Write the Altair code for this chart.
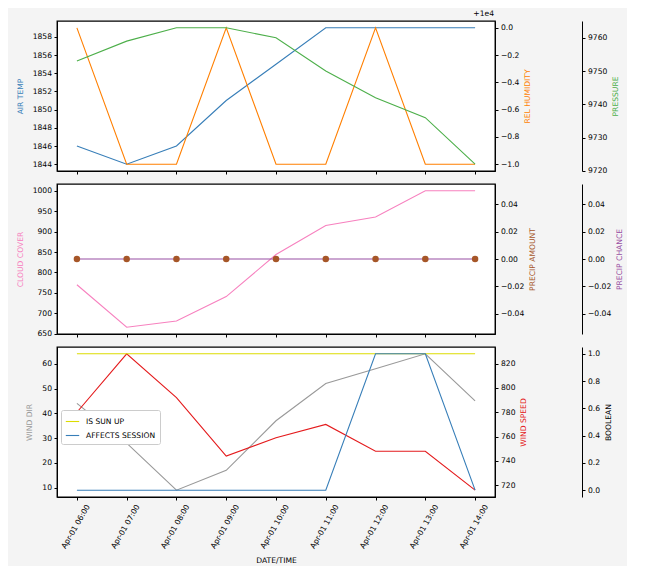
import altair as alt
import pandas as pd

# ---------------- data ----------------
times = ["2024-04-01T06:00:00", "2024-04-01T07:00:00", "2024-04-01T08:00:00",
         "2024-04-01T09:00:00", "2024-04-01T10:00:00", "2024-04-01T11:00:00",
         "2024-04-01T12:00:00", "2024-04-01T13:00:00", "2024-04-01T14:00:00"]
tick_hours = [6, 7, 8, 9, 10, 11, 12, 13, 14]
air_temp = [1846, 1844, 1846, 1851, 1855, 1859, 1859, 1859, 1859]
rel_humidity = [10000, 9999, 9999, 10000, 9999, 9999, 10000, 9999, 9999]
pressure = [9753, 9759, 9763, 9763, 9760, 9750, 9742, 9736, 9722]
cloud_cover = [770, 666, 681, 741, 844, 915, 936, 1000, 1000]
precip_amount = [0, 0, 0, 0, 0, 0, 0, 0, 0]
precip_chance = [0, 0, 0, 0, 0, 0, 0, 0, 0]
wind_dir = [44, 28, 9, 17, 37, 52, 58, 64, 45]
wind_speed = [780, 828, 792, 744, 759, 770, 748, 748, 716]
is_sun_up = [1, 1, 1, 1, 1, 1, 1, 1, 1]
affects_session = [0, 0, 0, 0, 0, 0, 1, 1, 0]

bool_names = ["IS SUN UP", "AFFECTS SESSION"]

# ---------------- styling ----------------
FONT = "DejaVu Sans"
FS = 7.6
C_TEMP = "#377eb8"
C_HUM = "#ff7f00"
C_PRES = "#4daf4a"
C_CLOUD = "#f781bf"
C_PAMT = "#a65628"
C_PCH = "#984ea3"
C_WDIR = "#999999"
C_WSPD = "#e41a1c"
C_SUN = "#dcdc00"
C_AFF = "#377eb8"
LW = 1.1
W, H = 438, 150
GAP = 14


def mdom(vals):
    lo, hi = min(vals), max(vals)
    if hi == lo:
        lo, hi = lo - 0.05, hi + 0.05
    r = hi - lo
    return [lo - 0.05 * r, hi + 0.05 * r]


df = pd.DataFrame({
    "time": times, "air_temp": air_temp, "rel_humidity": rel_humidity,
    "pressure": pressure, "cloud_cover": cloud_cover,
    "precip_amount": precip_amount, "precip_chance": precip_chance,
    "wind_dir": wind_dir, "wind_speed": wind_speed,
})
bool_df = pd.DataFrame({
    "time": times * 2,
    "series": [bool_names[0]] * len(times) + [bool_names[1]] * len(times),
    "value": is_sun_up + affects_session,
})

xdom = [alt.DateTime(year=2024, month=4, date=1, hours=5, minutes=36),
        alt.DateTime(year=2024, month=4, date=1, hours=14, minutes=24)]
xticks = [alt.DateTime(year=2024, month=4, date=1, hours=h) for h in tick_hours]
xscale = alt.Scale(domain=xdom)
x_plain = alt.X("time:T", scale=xscale,
                axis=alt.Axis(labels=False, title=None, values=xticks, grid=False))
x_bottom = alt.X("time:T", scale=xscale,
                 axis=alt.Axis(title="DATE/TIME", format="%b-%d %H:%M", labelAngle=300,
                               labelAlign="right", labelBaseline="middle", labelOffset=11,
                               labelPadding=5, titlePadding=7, values=xticks, grid=False))


def yaxis(orient, title, color, values, offset=0, fmt=None, label_expr=None):
    kw = dict(orient=orient, title=title, titleColor=color, values=values, grid=False,
              offset=offset)
    if orient == "right":
        kw.update(titleAngle=270, titleBaseline="top", titlePadding=5)
    else:
        kw.update(titlePadding=8)
    if fmt:
        kw["format"] = fmt
    if label_expr:
        kw["labelExpr"] = label_expr
    return alt.Axis(**kw)


def yenc(field, vals, axis, domain=None):
    return alt.Y(f"{field}:Q", scale=alt.Scale(domain=domain or mdom(vals), nice=False, zero=False),
                 axis=axis)


# ---------------- panel 1 ----------------
b1 = alt.Chart(df).encode(x=x_plain)
p1_temp = b1.mark_line(color=C_TEMP, strokeWidth=LW).encode(
    y=yenc("air_temp", air_temp, yaxis("left", "AIR TEMP", C_TEMP, list(range(1844, 1859, 2)), fmt="d")))
p1_hum = b1.mark_line(color=C_HUM, strokeWidth=LW).encode(
    y=yenc("rel_humidity", rel_humidity,
           yaxis("right", "REL HUMIDITY", C_HUM, [9999, 9999.2, 9999.4, 9999.6, 9999.8, 10000],
                 label_expr="format(datum.value - 10000, '.1f')")))
p1_pres = b1.mark_line(color=C_PRES, strokeWidth=LW).encode(
    y=yenc("pressure", pressure,
           yaxis("right", "PRESSURE", C_PRES, list(range(9720, 9761, 10)), offset=87, fmt="d")))
p1_off = alt.Chart(pd.DataFrame({"t": ["+1e4"]})).mark_text(
    align="right", baseline="bottom", font=FONT, fontSize=FS, color="black").encode(
    text="t:N", x=alt.value(W - 1), y=alt.value(-3))
panel1 = alt.layer(p1_temp, p1_hum, p1_pres, p1_off).resolve_scale(y="independent").properties(
    width=W, height=H)

# ---------------- panel 2 ----------------
b2 = alt.Chart(df).encode(x=x_plain)
p2_cloud = b2.mark_line(color=C_CLOUD, strokeWidth=LW).encode(
    y=yenc("cloud_cover", cloud_cover,
           yaxis("left", "CLOUD COVER", C_CLOUD, list(range(650, 1001, 50)), fmt="d")))
p2_pch = b2.mark_line(color=C_PCH, strokeWidth=LW).encode(
    y=yenc("precip_chance", precip_chance,
           yaxis("right", "PRECIP CHANCE", C_PCH, [-0.04, -0.02, 0, 0.02, 0.04], offset=87, fmt=".2f")))
p2_pamt = b2.mark_circle(color=C_PAMT, size=42, opacity=1).encode(
    y=yenc("precip_amount", precip_amount,
           yaxis("right", "PRECIP AMOUNT", C_PAMT, [-0.04, -0.02, 0, 0.02, 0.04], fmt=".2f")))
panel2 = alt.layer(p2_cloud, p2_pch, p2_pamt).resolve_scale(y="independent").properties(
    width=W, height=H)

# ---------------- panel 3 ----------------
b3 = alt.Chart(df).encode(x=x_bottom)
p3_dir = b3.mark_line(color=C_WDIR, strokeWidth=LW).encode(
    y=yenc("wind_dir", wind_dir, yaxis("left", "WIND DIR", C_WDIR, list(range(10, 61, 10)), fmt="d")))
p3_spd = b3.mark_line(color=C_WSPD, strokeWidth=LW).encode(
    y=yenc("wind_speed", wind_speed,
           yaxis("right", "WIND SPEED", C_WSPD, list(range(720, 821, 20)), fmt="d")))
p3_bool = alt.Chart(bool_df).mark_line(strokeWidth=LW).encode(
    x=x_bottom,
    y=yenc("value", [0, 1], yaxis("right", "BOOLEAN", "black", [0, 0.2, 0.4, 0.6, 0.8, 1.0],
                                  offset=87, fmt=".1f")),
    color=alt.Color("series:N", scale=alt.Scale(domain=bool_names, range=[C_SUN, C_AFF]),
                    legend=alt.Legend(title=None, orient="none", legendX=4,
                                      legendY=2 * (H + GAP) + 61,
                                      symbolType="stroke", symbolSize=180, symbolStrokeWidth=LW,
                                      labelFontSize=FS, labelFont=FONT, labelOffset=6,
                                      padding=4, fillColor="white", strokeColor="#cccccc",
                                      cornerRadius=2, labelColor="black")),
)
panel3 = alt.layer(p3_dir, p3_spd, p3_bool).resolve_scale(y="independent").properties(
    width=W, height=H)

chart = alt.vconcat(panel1, panel2, panel3, spacing=GAP - 7).properties(
    background="#f4f4f4",
    padding={"left": 7, "top": 1, "right": 2, "bottom": 1},
).configure_view(
    fill="white", stroke="black", strokeWidth=1.3
).configure_axis(
    labelFont=FONT, titleFont=FONT, labelFontSize=FS, titleFontSize=FS,
    titleFontWeight="normal", labelColor="black", tickColor="black",
    domainColor="black", tickSize=3, labelPadding=2.5,
).configure_legend(labelFont=FONT)

chart.save("out.html", embed_options={"renderer": "svg", "actions": False})
